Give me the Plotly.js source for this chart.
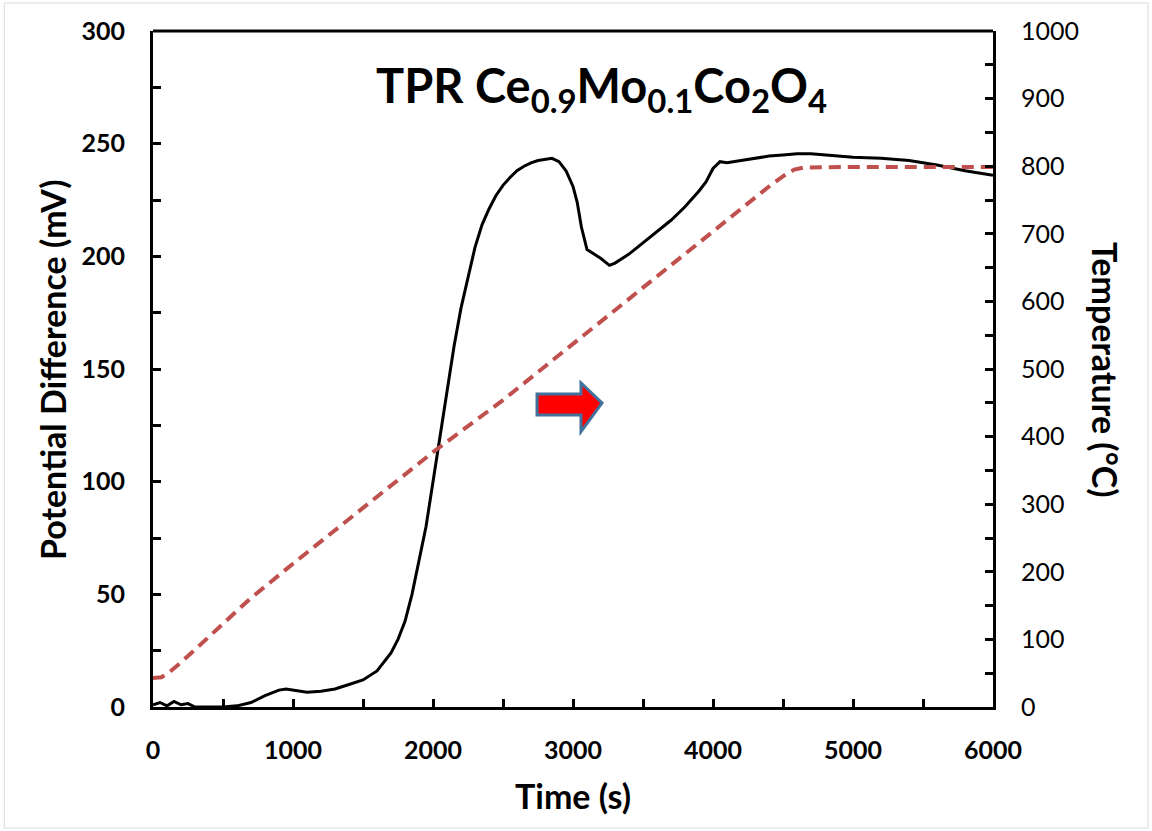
<!DOCTYPE html>
<html>
<head>
<meta charset="utf-8">
<script src="https://cdn.plot.ly/plotly-3.0.1.min.js"></script>
<style>html,body{margin:0;padding:0;background:#fff;}#chart{width:1152px;height:831px;}</style>
</head>
<body>
<div id="chart"></div>
<script>
// Potential difference (mV) vs time (s)
const timePot = [0,50,100,150,200,250,300,400,500,600,700,800,900,950,1000,1100,1200,1300,1400,1500,1600,1700,1750,1800,1850,1900,1950,2000,2050,2100,2150,2200,2250,2300,2350,2400,2450,2500,2550,2600,2650,2700,2750,2800,2850,2900,2950,3000,3030,3060,3100,3150,3200,3260,3300,3400,3500,3600,3700,3800,3900,3950,4000,4050,4100,4200,4300,4400,4500,4600,4700,4800,4900,5000,5200,5400,5600,5800,6000];
const potential = [1,2,0.5,2.5,1,1.5,0,0,0,0.5,2,5,7.5,8,7.5,6.5,7,8,10,12,16,24,30,38,50,65,80,100,120,140,160,177,191,204,214,221,227,231.5,235,238,240,241.5,242.5,243,243.5,242,238,231,224,213,203,201,199,196,197,201,206,211,216,222,229,233,239,242,241.5,242.5,243.5,244.5,245,245.5,245.5,245,244.5,244,243.5,242.5,240.5,238,236];
// Temperature (°C) vs time (s)
const timeTemp = [0,60,120,200,400,693,1000,1500,2000,2500,3000,3500,4000,4400,4520,4580,4650,5000,6000];
const temperature = [43,44,52,66,104,160,212,295,377,454,537,621,703,770,788,795,798,799,799];
// Arrow graphic outline, in data units of the primary axes
const arrowX = [2743,3057,3057,3207,3057,3057,2743];
const arrowY = [138.9,138.9,143.8,134.9,122.2,129.6,129.6];
// Tick labels
const xTicks = [0,1000,2000,3000,4000,5000,6000];
const yTicks = [0,50,100,150,200,250,300];
const y2Ticks = [0,100,200,300,400,500,600,700,800,900,1000];

const FONT = 'Lato, "Open Sans", sans-serif';

const traces = [
  {x: timePot, y: potential, type: 'scatter', mode: 'lines',
   line: {color: '#000000', width: 3}, xaxis: 'x', yaxis: 'y', showlegend: false, hoverinfo: 'skip'},
  {x: timeTemp, y: temperature, type: 'scatter', mode: 'lines',
   line: {color: '#C0504D', width: 4, dash: '12px,7px'}, xaxis: 'x', yaxis: 'y2', showlegend: false, hoverinfo: 'skip'}
];

let path = 'M ' + arrowX[0] + ',' + arrowY[0];
for (let i = 1; i < arrowX.length; i++) path += ' L ' + arrowX[i] + ',' + arrowY[i];
path += ' Z';

const minorX = xTicks.slice(0, -1).map(v => v + 500);
const minorY = yTicks.slice(0, -1).map(v => v + 25);
const minorY2 = y2Ticks.slice(0, -1).map(v => v + 50);

const layout = {
  width: 1152, height: 831,
  margin: {l: 153, r: 159, t: 31, b: 124},
  paper_bgcolor: '#ffffff', plot_bgcolor: '#ffffff',
  font: {family: FONT, color: '#000'},
  showlegend: false,
  xaxis: {
    range: [0, 6000], tickvals: xTicks,
    ticks: 'inside', ticklen: 8, tickwidth: 3, tickcolor: '#000', ticklabelstandoff: 19,
    minor: {tickvals: minorX, ticks: 'inside', ticklen: 8, tickwidth: 3, tickcolor: '#000'},
    showline: true, linecolor: '#000', linewidth: 3,
    showgrid: false, zeroline: false,
    tickfont: {family: FONT, size: 25, color: '#000', weight: 'bold'}
  },
  yaxis: {
    range: [0, 300], tickvals: yTicks,
    ticks: 'inside', ticklen: 8, tickwidth: 3, tickcolor: '#000', ticklabelstandoff: 20,
    minor: {tickvals: minorY, ticks: 'inside', ticklen: 8, tickwidth: 3, tickcolor: '#000'},
    showline: true, linecolor: '#000', linewidth: 3,
    showgrid: false, zeroline: false,
    tickfont: {family: FONT, size: 25, color: '#000', weight: 'bold'}
  },
  yaxis2: {
    range: [0, 1000], overlaying: 'y', side: 'right',
    tickvals: y2Ticks,
    ticks: 'inside', ticklen: 8, tickwidth: 3, tickcolor: '#000', ticklabelstandoff: 20,
    minor: {tickvals: minorY2, ticks: 'inside', ticklen: 8, tickwidth: 3, tickcolor: '#000'},
    showline: true, linecolor: '#000', linewidth: 3,
    showgrid: false, zeroline: false,
    tickfont: {family: FONT, size: 25, color: '#000'}
  },
  shapes: [
    {type: 'line', xref: 'paper', yref: 'paper', x0: 0, x1: 1, y0: 1, y1: 1, line: {color: '#000', width: 3}},
    {type: 'path', xref: 'x', yref: 'y', path: path, fillcolor: '#FF0000', line: {color: '#41719C', width: 3}},
    {type: 'rect', xref: 'paper', yref: 'paper', x0: -0.177, x1: 1.1845, y0: -0.179, y1: 1.0414, line: {color: '#D9D9D9', width: 1}, fillcolor: 'rgba(0,0,0,0)', layer: 'below'}
  ],
  annotations: [
    {text: 'TPR Ce<sub>0.9</sub>Mo<sub>0.1</sub>Co<sub>2</sub>O<sub>4</sub>', xref: 'paper', yref: 'paper',
     x: 0.5345, y: 0.965, xanchor: 'center', yanchor: 'top', showarrow: false,
     font: {family: FONT, size: 47, color: '#000', weight: 'bold'}},
    {text: 'Time (s)', xref: 'paper', yref: 'paper', x: 0.5, y: (707-795)/676,
     xanchor: 'center', yanchor: 'middle', showarrow: false,
     font: {family: FONT, size: 34, color: '#000', weight: 'bold'}},
    {text: 'Potential Difference (mV)', xref: 'paper', yref: 'paper', x: (52-153)/840, y: (707-370)/676,
     xanchor: 'center', yanchor: 'middle', textangle: -90, showarrow: false,
     font: {family: FONT, size: 34, color: '#000', weight: 'bold'}},
    {text: 'Temperature (°C)', xref: 'paper', yref: 'paper', x: (1106-153)/840, y: (707-370)/676,
     xanchor: 'center', yanchor: 'middle', textangle: 90, showarrow: false,
     font: {family: FONT, size: 34, color: '#000', weight: 'bold'}}
  ]
};

Plotly.newPlot('chart', traces, layout, {staticPlot: true, displayModeBar: false});
</script>
</body>
</html>
